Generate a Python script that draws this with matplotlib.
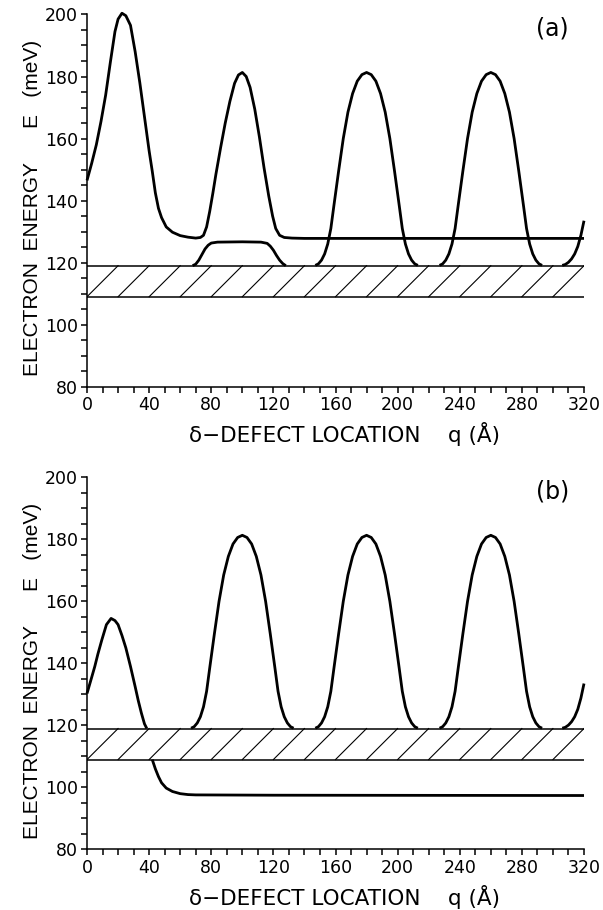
"""
Electron level energy E vs. delta-defect location q, two panels (a) and (b).
Hatched strip = miniband (109-119 meV).
"""

import matplotlib.pyplot as plt
from matplotlib.ticker import MultipleLocator

# ---------------- data ----------------------------------------------------
BAND_LO, BAND_HI = 109.0, 119.0
HATCH_Q = [0, 20, 40, 60, 80, 100, 120, 140, 160, 180, 200, 220, 240, 260, 280, 300]
HATCH_STEP = 20.0

# panel (a): upper branch (peak at 22 A, bump at 100 A, then flat at 128)
a_upper_q = [0, 3, 6, 9, 12, 15, 18, 20, 22.5, 25, 28, 31, 34, 37, 40, 42, 44,
             46, 48, 51, 55, 60, 65, 70, 73, 75, 77, 79, 81, 83, 86, 89, 92,
             95, 97.5, 100, 102.5, 105, 108, 111, 114, 117, 119.5, 121.5, 124,
             127, 132, 140, 320]
a_upper_e = [146.5, 152, 158, 165.5, 174, 184.5, 194.5, 198.5, 200.4,
             199.6, 196.5, 188, 178, 167, 156, 149.5, 142.5, 137.5, 134.5,
             131.5, 129.8, 128.7, 128.2, 127.9, 128.1, 128.8, 131.5, 136.5,
             142.3, 148.5, 157, 165, 172, 177.8, 180.5, 181.3, 180, 176.5,
             169.5, 160.5, 150.5, 141.5, 135, 131, 128.8, 128.1, 127.9, 127.8,
             127.8]
# panel (a): lower plateau branch between 68 and 128 A
a_lower_q = [68, 70, 72, 74, 76, 78, 80, 84, 100, 112, 116, 118, 120, 122,
             124, 126, 128]
a_lower_e = [119.0, 119.5, 120.8, 122.6, 124.4, 125.6, 126.3, 126.6, 126.7,
             126.6, 126.2, 125.3, 124.0, 122.3, 120.8, 119.7, 119.0]

# periodic bumps (same in both panels)
bump180_q = [147, 149, 151, 153, 155, 157, 159, 162, 165, 168, 171, 174, 177,
             180, 183, 186, 189, 192, 195, 198, 201, 203, 205, 207, 209, 211,
             213]
bump180_e = [119.1, 119.6, 120.8, 122.8, 126, 131, 138.5, 149.5, 160, 168.5,
             174.5, 178.5, 180.6, 181.3, 180.6, 178.5, 174.5, 168.5, 160,
             149.5, 138.5, 131, 126, 122.8, 120.8, 119.6, 119.1]
bump260_q = [227, 229, 231, 233, 235, 237, 239, 242, 245, 248, 251, 254, 257,
             260, 263, 266, 269, 272, 275, 278, 281, 283, 285, 287, 289, 291,
             293]
bump260_e = [119.1, 119.6, 120.8, 122.8, 126, 131, 138.5, 149.5, 160, 168.5,
             174.5, 178.5, 180.6, 181.3, 180.6, 178.5, 174.5, 168.5, 160,
             149.5, 138.5, 131, 126, 122.8, 120.8, 119.6, 119.1]
tail_q = [306, 308, 310, 312, 314, 316, 318, 320]
tail_e = [119.1, 119.4, 120.1, 121.2, 122.8, 125.2, 128.8, 133.5]

# panel (b): first peak and the level pulled below the band
b_first_q = [0, 3, 5, 7, 9.5, 12.5, 15.5, 18, 20, 22.5, 25, 28, 31, 33, 35,
             37, 38.5]
b_first_e = [130.3, 135.5, 139, 143, 147.5, 152.5, 154.5, 153.8, 152.5, 149,
             145, 139, 132.5, 128, 124, 120.5, 119.0]
b_bump100_q = [67, 69, 71, 73, 75, 77, 79, 82, 85, 88, 91, 94, 97, 100, 103,
               106, 109, 112, 115, 118, 121, 123, 125, 127, 129, 131, 133]
b_bump100_e = [119.1, 119.6, 120.8, 122.8, 126, 131, 138.5, 149.5, 160,
               168.5, 174.5, 178.5, 180.6, 181.3, 180.6, 178.5, 174.5, 168.5,
               160, 149.5, 138.5, 131, 126, 122.8, 120.8, 119.6, 119.1]
b_lower_q = [42, 44, 46, 48, 51, 55, 60, 65, 70, 120, 320]
b_lower_e = [109.0, 106.0, 103.5, 101.5, 99.8, 98.7, 98.0, 97.7, 97.6, 97.5,
             97.4]

PANELS = {
    "(a)": [(a_upper_q, a_upper_e), (a_lower_q, a_lower_e),
            (bump180_q, bump180_e), (bump260_q, bump260_e), (tail_q, tail_e)],
    "(b)": [(b_first_q, b_first_e), (b_bump100_q, b_bump100_e),
            (b_lower_q, b_lower_e), (bump180_q, bump180_e),
            (bump260_q, bump260_e), (tail_q, tail_e)],
}

TICK_FONT = "DejaVu Sans"
YLAB_FONT = "Liberation Sans"
XLAB_FONT = "DejaVu Sans"

fig = plt.figure(figsize=(6.03, 9.10), dpi=100)
rects = {"(a)": [0.1443, 0.5751, 0.8242, 0.409],
         "(b)": [0.1443, 0.0665, 0.8242, 0.409]}

for tag, curves in PANELS.items():
    ax = fig.add_axes(rects[tag])

    # miniband: two edges plus diagonal hatching
    ax.plot([0, 320], [BAND_HI, BAND_HI], color="black", lw=1.1)
    ax.plot([0, 320], [BAND_LO, BAND_LO], color="black", lw=1.1)
    for q0 in HATCH_Q:
        ax.plot([q0, q0 + HATCH_STEP], [BAND_LO, BAND_HI], color="black",
                lw=0.8)

    for q, e in curves:
        ax.plot(q, e, color="black", lw=2.0, solid_capstyle="butt",
                clip_on=False)

    ax.set_xlim(0, 320)
    ax.set_ylim(80, 200)
    ax.xaxis.set_major_locator(MultipleLocator(40))
    ax.xaxis.set_minor_locator(MultipleLocator(10))
    ax.yaxis.set_major_locator(MultipleLocator(20))
    ax.yaxis.set_minor_locator(MultipleLocator(5))
    ax.tick_params(which="both", direction="out", width=1.1, length=4.5,
                   labelsize=12.5, pad=2)
    for lab in ax.get_xticklabels() + ax.get_yticklabels():
        lab.set_fontfamily(TICK_FONT)

    ax.spines["top"].set_visible(False)
    ax.spines["right"].set_visible(False)
    ax.spines["left"].set_linewidth(1.1)
    ax.spines["bottom"].set_linewidth(1.1)

    ax.set_ylabel("ELECTRON  ENERGY      E   (meV)", family=YLAB_FONT,
                  fontsize=15)
    ax.yaxis.set_label_coords(-0.09, 0.48)
    ax.set_xlabel("δ−DEFECT LOCATION    q (Å)", family=XLAB_FONT,
                  fontsize=15.5)
    ax.xaxis.set_label_coords(0.519, -0.095)
    ax.text(0.936, 0.961, tag, transform=ax.transAxes, fontsize=17,
            ha="center", va="center")

fig.savefig("out.png", dpi=100)
